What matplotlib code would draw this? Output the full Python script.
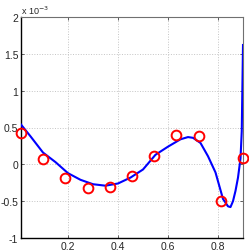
import matplotlib
matplotlib.use('Agg')
import matplotlib.pyplot as plt

# valores em unidades de 1e-3
pontos_x = [0.012, 0.1008, 0.1896, 0.2784, 0.3672, 0.456, 0.5448, 0.6336, 0.7224, 0.8112, 0.9]
pontos_y = [0.42, 0.07, -0.19, -0.32, -0.31, -0.16, 0.11, 0.40, 0.38, -0.50, 0.09]

curva_x = [0.012, 0.05, 0.1, 0.15, 0.2, 0.25, 0.3, 0.35, 0.4, 0.45, 0.5, 0.55, 0.6,
           0.65, 0.68, 0.7, 0.73, 0.76, 0.79, 0.82, 0.84, 0.85, 0.86, 0.87, 0.88,
           0.89, 0.895, 0.9]
curva_y = [0.54, 0.38, 0.16, 0.03, -0.12, -0.21, -0.27, -0.29, -0.26, -0.18, -0.07, 0.13, 0.24,
           0.34, 0.37, 0.36, 0.29, 0.11, -0.11, -0.47, -0.57, -0.58, -0.50, -0.36, -0.18,
           0.08, 0.45, 1.62]

yticks = [-1, -0.5, 0, 0.5, 1, 1.5, 2]
ytick_labels = ['-1', '-0.5', '0', '0.5', '1', '1.5', '2']
xticks = [0.2, 0.4, 0.6, 0.8]
xtick_labels = ['0.2', '0.4', '0.6', '0.8']

plt.rcParams['font.family'] = ['Liberation Sans', 'DejaVu Sans']

fig = plt.figure(figsize=(2.49, 2.51), dpi=100)
ax = fig.add_axes([21 / 249, 12 / 251, 222 / 249, 221 / 251])

ax.plot(curva_x, curva_y, color='#0000ff', linewidth=1.5, zorder=3)
ax.plot(pontos_x, pontos_y, 'o', markerfacecolor='none', markeredgecolor='#ff0000',
        markersize=7, markeredgewidth=1.4, zorder=4, clip_on=False)

ax.set_xlim(0.012, 0.9)
ax.set_ylim(-1, 2)
ax.set_xticks(xticks)
ax.set_xticklabels(xtick_labels)
ax.set_yticks(yticks)
ax.set_yticklabels(ytick_labels)
ax.tick_params(direction='in', length=2.5, width=0.5, labelsize=7.5, top=True, right=True,
               pad=2, colors='#262626')
ax.grid(True, linestyle=':', color='#c4c4c4', linewidth=0.7)

for lado in ['left', 'bottom']:
    ax.spines[lado].set_color('#000000')
    ax.spines[lado].set_linewidth(1.0)
for lado in ['top', 'right']:
    ax.spines[lado].set_color('#707070')
    ax.spines[lado].set_linewidth(0.8)

ax.text(0.0, 1.005, 'x 10$^{-3}$', transform=ax.transAxes, fontsize=6.5,
        ha='left', va='bottom', color='#262626')

fig.savefig('out.png', dpi=100)
